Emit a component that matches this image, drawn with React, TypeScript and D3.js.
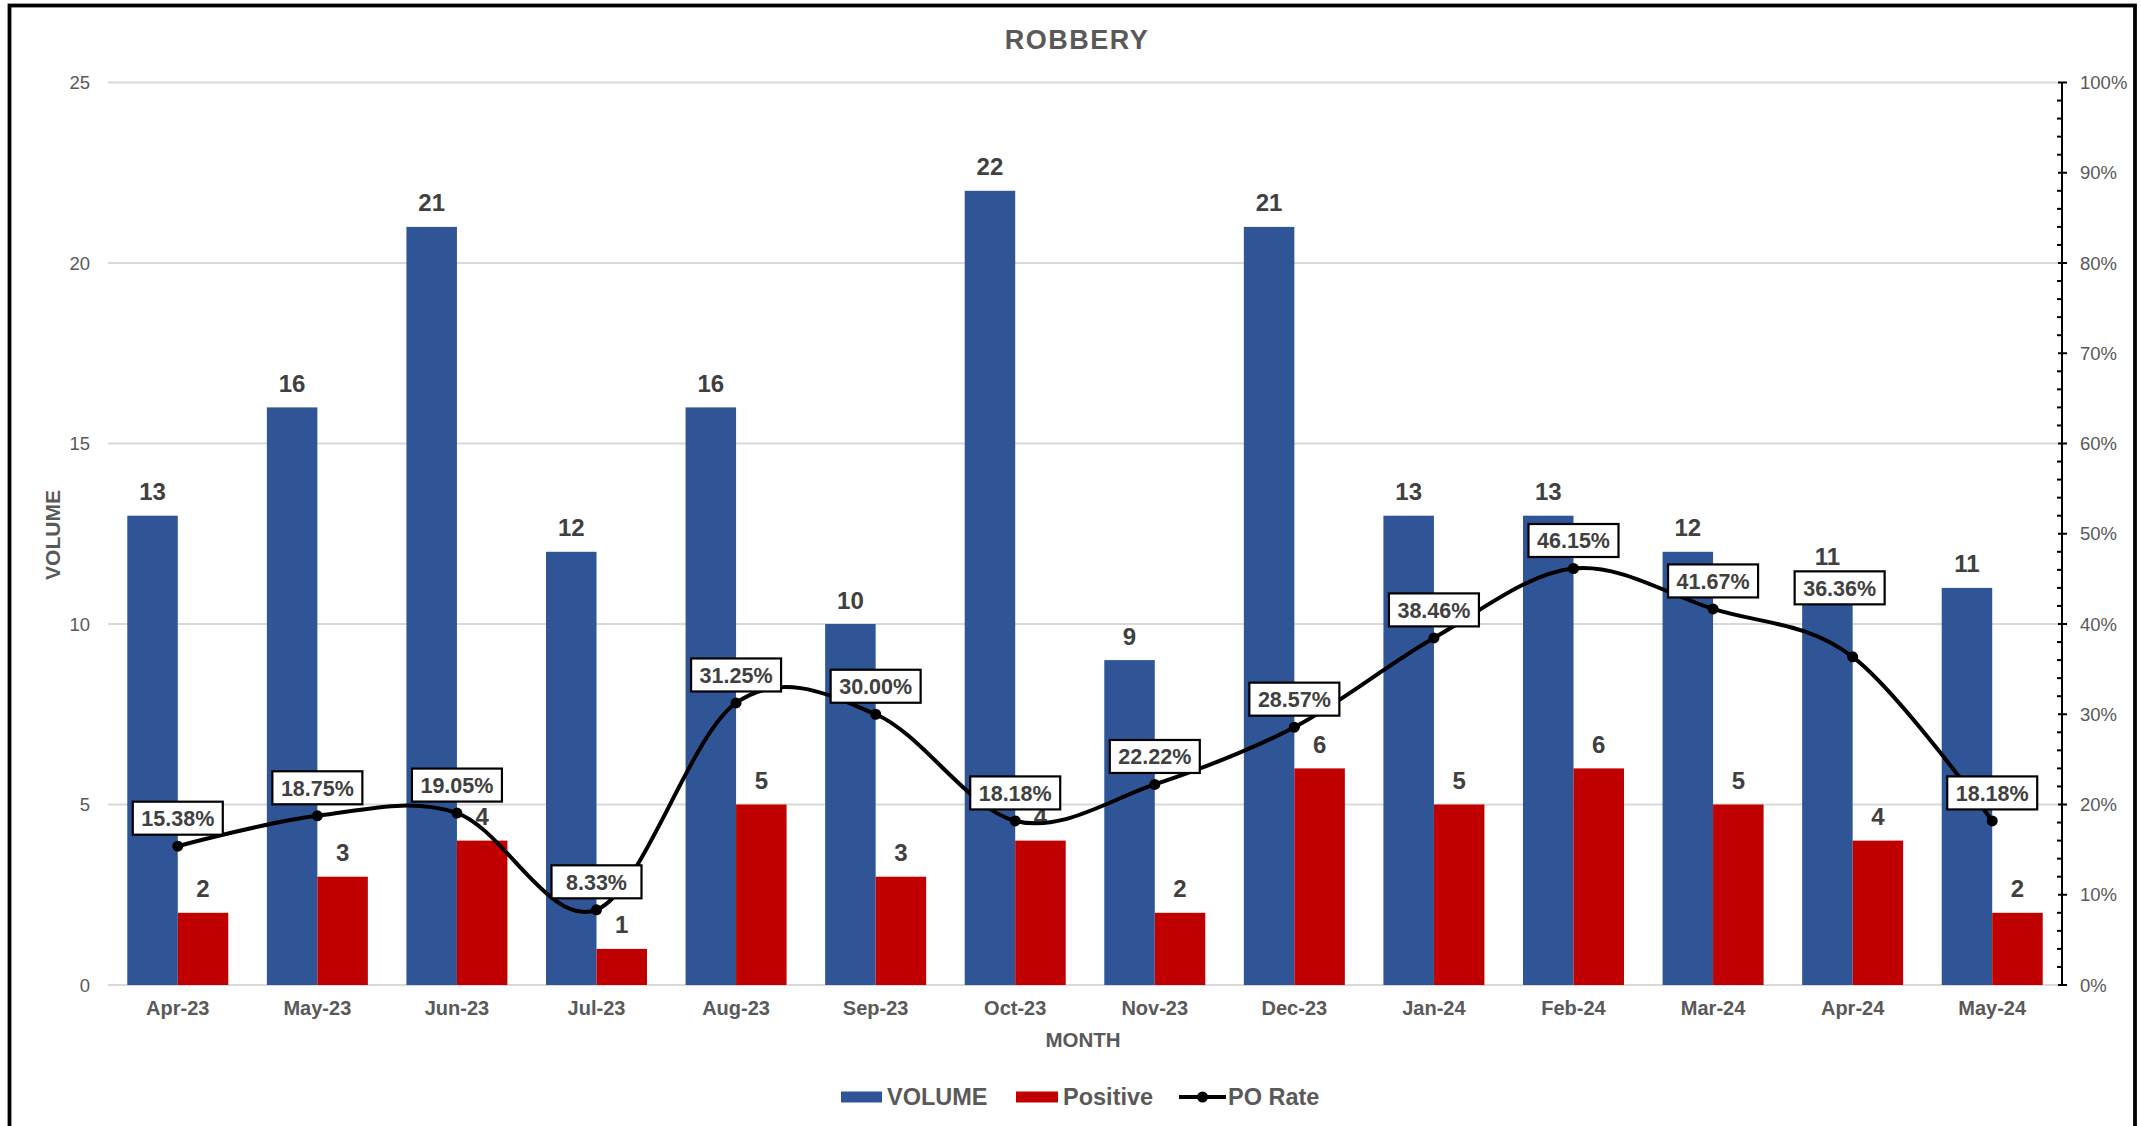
import React from "react";
import * as d3 from "d3";

const months = ["Apr-23","May-23","Jun-23","Jul-23","Aug-23","Sep-23","Oct-23","Nov-23","Dec-23","Jan-24","Feb-24","Mar-24","Apr-24","May-24"];
const volume = [13,16,21,12,16,10,22,9,21,13,13,12,11,11];
const positive = [2,3,4,1,5,3,4,2,6,5,6,5,4,2];
const poRate = [15.38,18.75,19.05,8.33,31.25,30.00,18.18,22.22,28.57,38.46,46.15,41.67,36.36,18.18];
const leftTicks = [0,5,10,15,20,25];
const rightTicks = [0,10,20,30,40,50,60,70,80,90,100];

const W = 2141, H = 1126;
const FONT = "'Liberation Sans', Arial, sans-serif";
const BLUE = "#2F5597", RED = "#C00000";
const GRID = "#d9d9d9", AXT = "#595959", LBL = "#404040";

export default function App() {
  const x = d3.scaleBand<string>().domain(months).range([108, 2062]).paddingInner(0).paddingOuter(0);
  const y = d3.scaleLinear().domain([0, 25]).range([985, 82.5]);
  const y2 = d3.scaleLinear().domain([0, 100]).range([985, 82.5]);
  const bw = 50.5;
  const cx = (m: string) => (x(m) as number) + x.bandwidth() / 2;

  const pts: [number, number][] = months.map((m, i) => [cx(m), y2(poRate[i])]);
  const line = d3.line().curve(d3.curveCatmullRom.alpha(0))(pts) as string;

  const minor = d3.range(0, 101, 2).filter(v => v % 10 !== 0);

  // per-label manual placement adjustments (layout only)
  const boxShift = (i: number) => (i === 12 ? { dx: -13, dy: -41 } : { dx: 0, dy: 0 });
  const volShift = (i: number) => (i === 12 ? -7 : 0);

  const legendY = 1097;

  return (
    <svg width={W} height={H} style={{ position: "absolute", left: 0, top: 0, background: "#fff" }} fontFamily={FONT}>
      <rect x={0} y={0} width={W} height={H} fill="#fff" />
      <rect x={9.5} y={5.5} width={2125.5} height={H + 20} fill="none" stroke="#000" strokeWidth={3.8} />

      <text x={1077} y={40} textAnchor="middle" dominantBaseline="central" fontSize={27} fontWeight="bold" fill={AXT} letterSpacing={1.5}>ROBBERY</text>

      {leftTicks.map(t => (
        <g key={"g" + t}>
          <line x1={108} x2={2062} y1={y(t)} y2={y(t)} stroke={GRID} strokeWidth={1.8} />
          <text x={90} y={y(t)} textAnchor="end" dominantBaseline="central" fontSize={18.5} fill={AXT}>{t}</text>
        </g>
      ))}

      {/* right axis */}
      <line x1={2062} x2={2062} y1={y2(100)} y2={y2(0)} stroke="#000" strokeWidth={2} />
      {rightTicks.map(t => (
        <g key={"r" + t}>
          <line x1={2058} x2={2067} y1={y2(t)} y2={y2(t)} stroke="#000" strokeWidth={2} />
          <text x={2080} y={y2(t)} dominantBaseline="central" fontSize={18.5} fill={AXT}>{t}%</text>
        </g>
      ))}
      {minor.map(t => (
        <line key={"m" + t} x1={2057} x2={2062} y1={y2(t)} y2={y2(t)} stroke="#000" strokeWidth={2} />
      ))}

      {/* bars */}
      {months.map((m, i) => (
        <g key={"b" + m}>
          <rect x={cx(m) - bw} y={y(volume[i])} width={bw} height={y(0) - y(volume[i])} fill={BLUE} />
          <rect x={cx(m)} y={y(positive[i])} width={bw} height={y(0) - y(positive[i])} fill={RED} />
        </g>
      ))}

      {/* bar labels */}
      {months.map((m, i) => (
        <g key={"bl" + m} fontSize={24} fontWeight="bold" fill={LBL} textAnchor="middle">
          <text x={cx(m) - bw / 2} y={y(volume[i]) - 24 + volShift(i)} dominantBaseline="central">{volume[i]}</text>
          <text x={cx(m) + bw / 2} y={y(positive[i]) - 24} dominantBaseline="central">{positive[i]}</text>
        </g>
      ))}

      {/* x axis labels */}
      {months.map(m => (
        <text key={"x" + m} x={cx(m)} y={1008} textAnchor="middle" dominantBaseline="central" fontSize={20} fontWeight="bold" fill={AXT}>{m}</text>
      ))}
      <text x={1083} y={1039} textAnchor="middle" dominantBaseline="central" fontSize={20.5} fontWeight="bold" fill={AXT}>MONTH</text>
      <text transform="translate(52,535) rotate(-90)" textAnchor="middle" dominantBaseline="central" fontSize={21} fontWeight="bold" fill={AXT}>VOLUME</text>

      {/* PO rate line */}
      <path d={line} fill="none" stroke="#000" strokeWidth={4} strokeLinejoin="round" />
      {pts.map((p, i) => (
        <circle key={"c" + i} cx={p[0]} cy={p[1]} r={5.5} fill="#000" />
      ))}

      {/* PO rate labels */}
      {pts.map((p, i) => {
        const s = boxShift(i);
        const bx = p[0] + s.dx, by = p[1] - 28 + s.dy;
        return (
          <g key={"pl" + i}>
            <rect x={bx - 45} y={by - 16.5} width={90} height={33} fill="#fff" stroke="#000" strokeWidth={2.2} />
            <text x={bx} y={by + 1} textAnchor="middle" dominantBaseline="central" fontSize={21.5} fontWeight="bold" fill={LBL}>{poRate[i].toFixed(2)}%</text>
          </g>
        );
      })}

      {/* legend */}
      <rect x={841} y={legendY - 5.5} width={41} height={11} fill={BLUE} />
      <text x={887} y={legendY} dominantBaseline="central" fontSize={23.5} fontWeight="bold" fill={AXT}>VOLUME</text>
      <rect x={1016} y={legendY - 5.5} width={42} height={11} fill={RED} />
      <text x={1063} y={legendY} dominantBaseline="central" fontSize={23.5} fontWeight="bold" fill={AXT}>Positive</text>
      <line x1={1179} x2={1226} y1={legendY} y2={legendY} stroke="#000" strokeWidth={4} />
      <circle cx={1202.5} cy={legendY} r={5.5} fill="#000" />
      <text x={1228} y={legendY} dominantBaseline="central" fontSize={23.5} fontWeight="bold" fill={AXT}>PO Rate</text>
    </svg>
  );
}
